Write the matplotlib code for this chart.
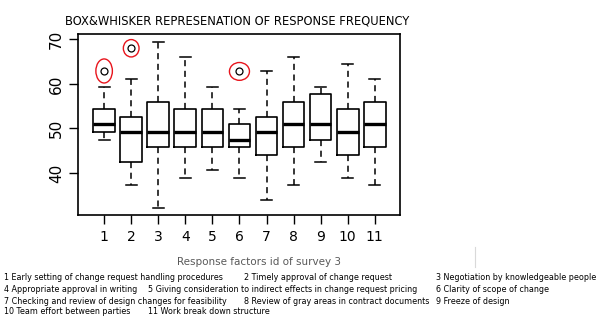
import matplotlib
matplotlib.use("Agg")
import matplotlib.pyplot as plt
from matplotlib.patches import Ellipse
from matplotlib.lines import Line2D

# box statistics (survey 3 response factors)
factor_ids = [1, 2, 3, 4, 5, 6, 7, 8, 9, 10, 11]
whisker_low = [47.4, 37.3, 32.2, 38.9, 40.7, 38.9, 34.0, 37.3, 42.5, 38.9, 37.3]
q1 = [49.2, 42.5, 45.8, 45.8, 45.8, 45.8, 44.0, 45.8, 47.4, 44.0, 45.8]
medians = [51.0, 49.2, 49.2, 49.2, 49.2, 47.4, 49.2, 51.0, 51.0, 49.2, 51.0]
q3 = [54.3, 52.5, 55.9, 54.3, 54.3, 51.0, 52.5, 55.9, 57.7, 54.3, 55.9]
whisker_high = [59.4, 61.0, 69.5, 66.1, 59.4, 54.3, 62.9, 66.1, 59.4, 64.5, 61.0]
outliers = {1: [62.9], 2: [68.0], 6: [62.8]}

factor_names = [
    "1 Early setting of change request handling procedures",
    "2 Timely approval of change request",
    "3 Negotiation by knowledgeable people",
    "4 Appropriate approval in writing",
    "5 Giving consideration to indirect effects in change request pricing",
    "6 Clarity of scope of change",
    "7 Checking and review of design changes for feasibility",
    "8 Review of gray areas in contract documents",
    "9 Freeze of design",
    "10 Team effort between parties",
    "11 Work break down structure",
]

stats = []
for i, fid in enumerate(factor_ids):
    stats.append({
        "whislo": whisker_low[i], "q1": q1[i], "med": medians[i],
        "q3": q3[i], "whishi": whisker_high[i],
        "fliers": outliers.get(fid, []),
    })

fig = plt.figure(figsize=(6.06, 3.26), dpi=100)
ax = fig.add_axes([0.1294, 0.3396, 0.531, 0.5561])

ax.bxp(stats, positions=factor_ids, widths=0.8, patch_artist=False,
       boxprops=dict(color="black", linewidth=1.2),
       medianprops=dict(color="black", linewidth=2.4, solid_capstyle="butt"),
       whiskerprops=dict(color="black", linewidth=1.1, linestyle=(0, (4, 3))),
       capprops=dict(color="black", linewidth=1.1),
       flierprops=dict(marker="o", markersize=5, markerfacecolor="none",
                       markeredgecolor="black", markeredgewidth=0.9),
       capwidths=0.4)

# red circles around the outliers
ell_size = {1: (0.61, 5.4), 2: (0.58, 3.9), 6: (0.74, 4.0)}
for fid, vals in outliers.items():
    w, h = ell_size[fid]
    for v in vals:
        ax.add_patch(Ellipse((fid, v), w, h, fill=False, edgecolor="#e8141c", linewidth=1.0))

ax.set_xlim(0.05, 11.94)
ax.set_ylim(30.5, 71.2)
ax.set_yticks([40, 50, 60, 70])
ax.set_yticklabels(["40", "50", "60", "70"], rotation=90, va="center", fontsize=11)
ax.set_xticks(factor_ids)
ax.set_xticklabels([str(f) for f in factor_ids], fontsize=10)
ax.tick_params(axis="both", direction="out", length=6.5, width=1.0, pad=4)
for s in ax.spines.values():
    s.set_linewidth(1.2)

fig.text(0.107, 0.937, "BOX&WHISKER REPRESENATION OF RESPONSE FREQUENCY",
         fontsize=8.3, va="center", ha="left")

fig.text(0.428, 0.196, "Response factors id of survey 3", fontsize=7.5,
         color="#595959", ha="center", va="center")
fig.add_artist(Line2D([0.784, 0.784], [0.18, 0.242], color="#d9d9d9", linewidth=0.8))

# factor legend, laid out in three tab columns
col_x = [[4, 244, 435.5], [4, 148, 435.5], [4, 244, 435.5], [4, 148]]
row_y = [278, 290, 301, 312]
k = 0
for r, xs in enumerate(col_x):
    for x in xs:
        fig.text(x / 606, 1 - row_y[r] / 326, factor_names[k], fontsize=5.8,
                 ha="left", va="center")
        k += 1

fig.savefig("out.png", dpi=100)
